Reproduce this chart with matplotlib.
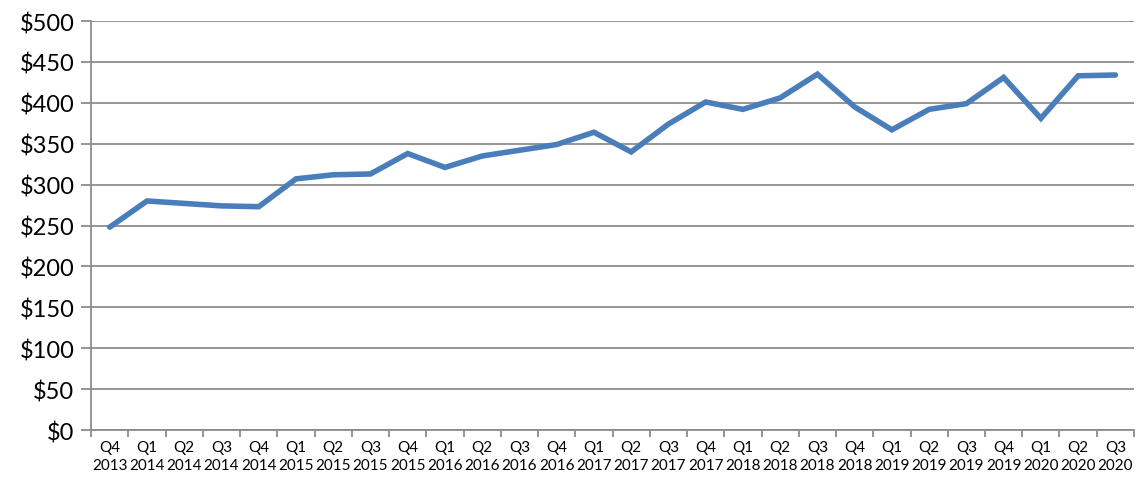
import matplotlib.pyplot as plt
import numpy as np

quarters = ["Q4", "Q1", "Q2", "Q3", "Q4", "Q1", "Q2", "Q3", "Q4", "Q1", "Q2", "Q3", "Q4", "Q1",
            "Q2", "Q3", "Q4", "Q1", "Q2", "Q3", "Q4", "Q1", "Q2", "Q3", "Q4", "Q1", "Q2", "Q3"]
years = ["2013", "2014", "2014", "2014", "2014", "2015", "2015", "2015", "2015", "2016", "2016",
         "2016", "2016", "2017", "2017", "2017", "2017", "2018", "2018", "2018", "2018", "2019",
         "2019", "2019", "2019", "2020", "2020", "2020"]
values = [248, 280, 277, 274, 273, 307, 312, 313, 338, 321, 335, 342, 349, 364,
          340, 374, 401, 392, 406, 435, 395, 367, 392, 399, 431, 381, 433, 434]
y_ticks = list(range(0, 501, 50))

plt.rcParams["font.family"] = ["Lato", "DejaVu Sans"]

fig = plt.figure(figsize=(11.39, 4.89), dpi=100)
ax = fig.add_axes([0.080, 0.1186, 0.9156, 0.8364])

x = np.arange(len(values))
ax.plot(x, values, color="#4a7ebb", linewidth=4.0, solid_joinstyle="miter", solid_capstyle="round")

ax.set_xlim(-0.5, len(values) - 0.5)
ax.set_ylim(0, 500)
ax.set_yticks(y_ticks)
ax.set_yticklabels([f"${v}" for v in y_ticks], fontsize=17)
ax.yaxis.grid(True, color="#8c8c8c", linewidth=1.3)
ax.set_axisbelow(True)

ax.set_xticks(x)
ax.set_xticklabels([f"{q}\n{y}" for q, y in zip(quarters, years)], fontsize=11, linespacing=1.35)
ax.set_xticks(np.arange(-0.5, len(values)), minor=True)
ax.tick_params(axis="x", which="major", length=0, pad=7)
ax.tick_params(axis="x", which="minor", length=5, color="#8c8c8c", width=1.3)
ax.tick_params(axis="y", length=7, color="#8c8c8c", width=1.3, pad=5)

for side in ["top", "right"]:
    ax.spines[side].set_visible(False)
for side in ["left", "bottom"]:
    ax.spines[side].set_color("#8c8c8c")
    ax.spines[side].set_linewidth(1.3)

fig.savefig("out.png", dpi=100)
